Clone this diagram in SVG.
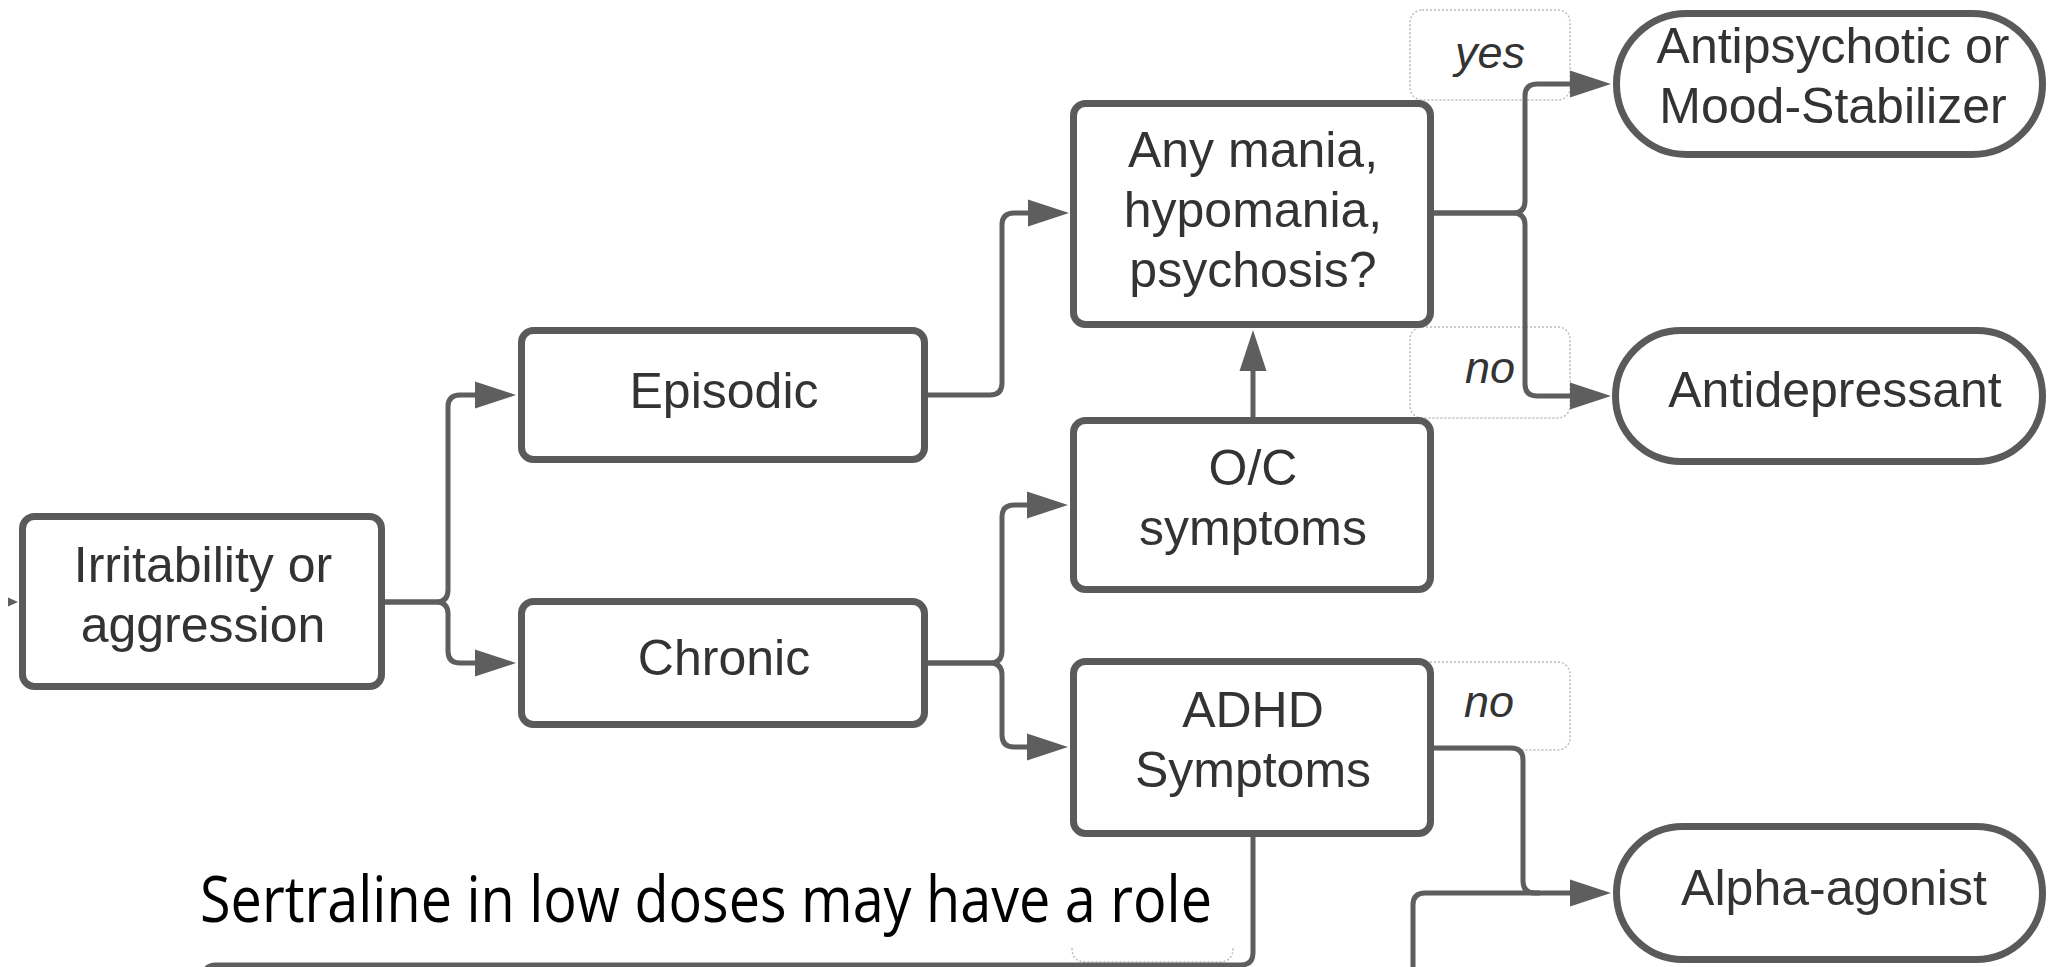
<svg xmlns="http://www.w3.org/2000/svg" width="2050" height="967" viewBox="0 0 2050 967">
<style>
  .box { fill: #ffffff; stroke: #5a5a5a; stroke-width: 7; }
  .lbl { fill: #ffffff; stroke: #bcbcbc; stroke-width: 1.5; stroke-dasharray: 2 2; }
  .t { font-family: "Liberation Sans", Arial, sans-serif; font-size: 50px; fill: #333333; text-anchor: middle; }
  .it { font-family: "Liberation Sans", Arial, sans-serif; font-size: 45px; font-style: italic; fill: #333333; text-anchor: middle; }
  .c { fill: none; stroke: #5e5e5e; stroke-width: 5; }
  .note { font-family: "Open Sans", "Noto Sans", sans-serif; font-size: 64px; fill: #000000; }
</style>
<defs>
  <marker id="ah" markerUnits="userSpaceOnUse" markerWidth="41" markerHeight="28" refX="0" refY="14" orient="auto">
    <path d="M0,0.5 L41,14 L0,27.5 z" fill="#5e5e5e"/>
  </marker>
</defs>
<rect width="2050" height="967" fill="#ffffff"/>

<g id="labels">
  <g id="label-yes">
    <rect class="lbl" x="1410" y="10" width="160" height="90" rx="12"/>
    <text class="it" x="1490" y="68">yes</text>
  </g>
  <g id="label-no-1">
    <rect class="lbl" x="1410" y="327" width="160" height="91" rx="12"/>
    <text class="it" x="1490" y="383">no</text>
  </g>
  <g id="label-no-2">
    <rect class="lbl" x="1410" y="662" width="160" height="88" rx="12"/>
    <text class="it" x="1489" y="717">no</text>
  </g>
  <g id="label-hidden">
    <path class="lbl" fill="none" d="M1072,948 Q1072,962 1086,962 H1219 Q1233,962 1233,948"/>
  </g>
</g>

<g id="connectors">
  <path class="c" d="M385,602 H436 Q448,602 448,590 V407 Q448,395 460,395 H475" marker-end="url(#ah)"/>
  <path class="c" d="M385,602 H436 Q448,602 448,614 V651 Q448,663 460,663 H475" marker-end="url(#ah)"/>
  <path class="c" d="M928,395 H990 Q1002,395 1002,383 V225 Q1002,213 1014,213 H1028" marker-end="url(#ah)"/>
  <path class="c" d="M928,663 H990 Q1002,663 1002,651 V517 Q1002,505 1014,505 H1027" marker-end="url(#ah)"/>
  <path class="c" d="M928,663 H990 Q1002,663 1002,675 V735 Q1002,747 1014,747 H1027" marker-end="url(#ah)"/>
  <path class="c" d="M1253,417 V371" marker-end="url(#ah)"/>
  <path class="c" d="M1434,213 H1513 Q1525,213 1525,201 V96 Q1525,84 1537,84 H1570" marker-end="url(#ah)"/>
  <path class="c" d="M1434,213 H1513 Q1525,213 1525,225 V384 Q1525,396 1537,396 H1570" marker-end="url(#ah)"/>
  <path class="c" d="M1432,748 H1511 Q1523,748 1523,760 V881 Q1523,893 1535,893 H1570" marker-end="url(#ah)"/>
  <path class="c" d="M1413,975 V905 Q1413,893 1425,893 H1540"/>
  <path class="c" d="M1253,837 V953 Q1253,965 1241,965 H216 Q204,965 204,977"/>
  <path d="M8,597.5 L18,602 L8,606.5 z" fill="#5e5e5e"/>
</g>

<g id="n-irritability">
  <rect class="box" x="22.5" y="516.5" width="359" height="170" rx="12"/>
  <text class="t" x="203" y="582">Irritability or</text>
  <text class="t" x="203" y="642">aggression</text>
</g>
<g id="n-episodic">
  <rect class="box" x="521.5" y="330.5" width="403" height="129" rx="12"/>
  <text class="t" x="724" y="408">Episodic</text>
</g>
<g id="n-chronic">
  <rect class="box" x="521.5" y="601.5" width="403" height="123" rx="12"/>
  <text class="t" x="724" y="675">Chronic</text>
</g>
<g id="n-mania">
  <rect class="box" x="1073.5" y="103.5" width="357" height="221" rx="12"/>
  <text class="t" x="1253" y="167">Any mania,</text>
  <text class="t" x="1253" y="227">hypomania,</text>
  <text class="t" x="1253" y="287">psychosis?</text>
</g>
<g id="n-oc">
  <rect class="box" x="1073.5" y="420.5" width="357" height="169" rx="12"/>
  <text class="t" x="1253" y="485">O/C</text>
  <text class="t" x="1253" y="545">symptoms</text>
</g>
<g id="n-adhd">
  <rect class="box" x="1073.5" y="661.5" width="357" height="172" rx="12"/>
  <text class="t" x="1253" y="727">ADHD</text>
  <text class="t" x="1253" y="787">Symptoms</text>
</g>
<g id="n-antipsychotic">
  <rect class="box" x="1616.5" y="13.5" width="426" height="141" rx="70.5"/>
  <text class="t" x="1833" y="63">Antipsychotic or</text>
  <text class="t" x="1833" y="123">Mood-Stabilizer</text>
</g>
<g id="n-antidepressant">
  <rect class="box" x="1615.5" y="330.5" width="427" height="131" rx="65.5"/>
  <text class="t" x="1835" y="407">Antidepressant</text>
</g>
<g id="n-alpha">
  <rect class="box" x="1616.5" y="826.5" width="426" height="133" rx="66.5"/>
  <text class="t" x="1834" y="905">Alpha-agonist</text>
</g>

<g id="note">
  <text class="note" x="200" y="922" textLength="1012" lengthAdjust="spacingAndGlyphs">Sertraline in low doses may have a role</text>
</g>
</svg>
